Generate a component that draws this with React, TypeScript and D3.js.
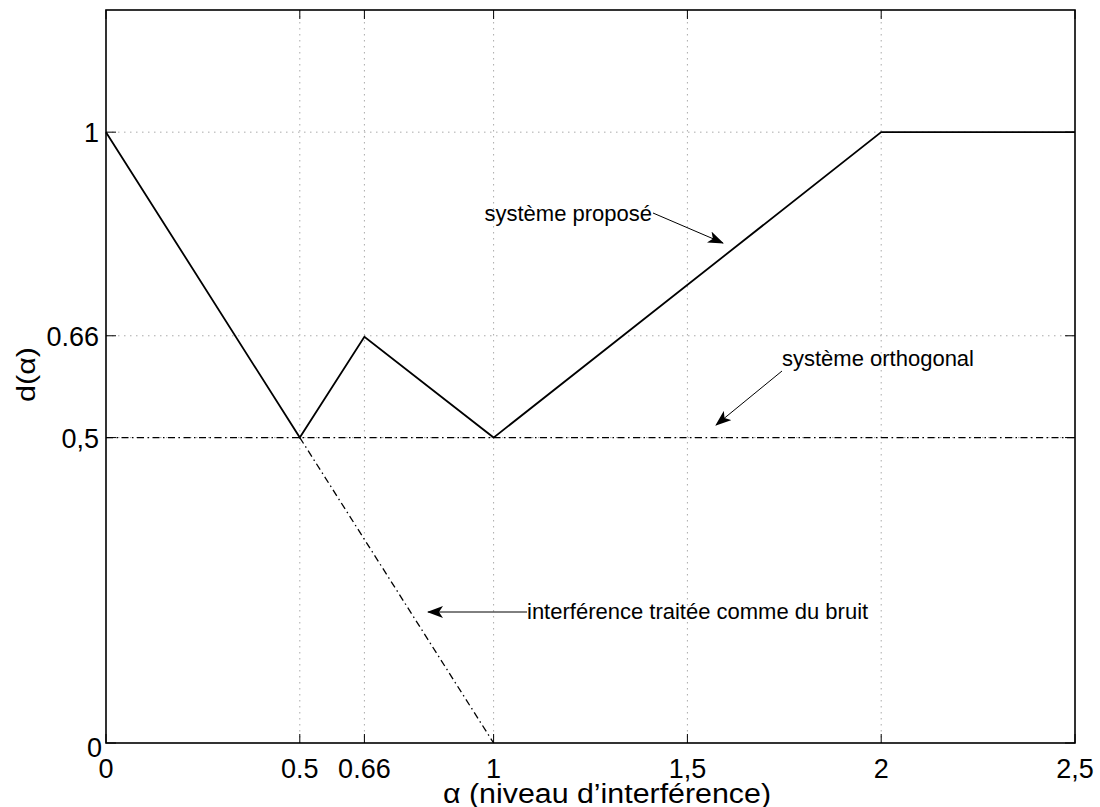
import React from "react";
import * as d3 from "d3";

const xTicks = [0, 0.5, 2 / 3, 1, 1.5, 2, 2.5];
const xTickLabels = ["0", "0.5", "0.66", "1", "1,5", "2", "2,5"];
const yTicks = [0, 0.5, 2 / 3, 1];
const yTickLabels = ["0", "0,5", "0.66", "1"];

const proposeX = [0, 0.5, 2 / 3, 1, 2, 2.5];
const proposeY = [1, 0.5, 0.665, 0.5, 1, 1];
const orthoX = [0, 2.5];
const orthoY = [0.5, 0.5];
const bruitX = [0.5, 1];
const bruitY = [0.5, 0];

const W = 1100, H = 807;
const M = { left: 106, right: 1075, top: 10, bottom: 743 };

export default function App() {
  const x = d3.scaleLinear().domain([0, 2.5]).range([M.left, M.right]);
  const y = d3.scaleLinear().domain([0, 1.2]).range([M.bottom, M.top]);
  const line = d3.line<[number, number]>().x(d => x(d[0])).y(d => y(d[1]));
  const pts = (xs: number[], ys: number[]) => xs.map((v, i) => [v, ys[i]] as [number, number]);
  const font = "'Liberation Sans', Arial, Helvetica, sans-serif";
  const dashDot = "7,3.5,1.5,3.5";

  const ann = [
    { text: "système proposé", tx: 652, ty: 221, x1: 653, y1: 213, x2: 723, y2: 243, anchor: "end" },
    { text: "système orthogonal", tx: 782, ty: 366, x1: 782, y1: 371, x2: 716, y2: 425, anchor: "start" },
    { text: "interférence traitée comme du bruit", tx: 527, ty: 619, x1: 527, y1: 612, x2: 428, y2: 612, anchor: "start" },
  ];

  return (
    <svg width={W} height={H} style={{ position: "absolute", left: 0, top: 0 }} fontFamily={font}>
      <defs>
        <marker id="ah" viewBox="0 0 16 12" refX="15" refY="6" markerWidth="16" markerHeight="12" markerUnits="userSpaceOnUse" orient="auto">
          <path d="M0,0 L16,6 L0,12 L4,6 Z" fill="#000" />
        </marker>
      </defs>
      <rect x={0} y={0} width={W} height={H} fill="#fff" />
      {/* grid */}
      {xTicks.slice(1, -1).map((t, i) => (
        <line key={"gx" + i} x1={x(t)} x2={x(t)} y1={M.top} y2={M.bottom} stroke="#aaa" strokeWidth={1} strokeDasharray="1.5,4.5" />
      ))}
      {yTicks.slice(1).map((t, i) => (
        <line key={"gy" + i} x1={M.left} x2={M.right} y1={y(t)} y2={y(t)} stroke="#aaa" strokeWidth={1} strokeDasharray="1.5,4.5" />
      ))}
      {/* ticks */}
      {xTicks.map((t, i) => (
        <g key={"tx" + i}>
          <line x1={x(t)} x2={x(t)} y1={M.bottom} y2={M.bottom - 9} stroke="#000" />
          <line x1={x(t)} x2={x(t)} y1={M.top} y2={M.top + 9} stroke="#000" />
          <text x={x(t)} y={778} fontSize={27} textAnchor="middle">{xTickLabels[i]}</text>
        </g>
      ))}
      {yTicks.map((t, i) => (
        <g key={"ty" + i}>
          <line x1={M.left} x2={M.left + 10} y1={y(t)} y2={y(t)} stroke="#000" />
          <line x1={M.right} x2={M.right - 10} y1={y(t)} y2={y(t)} stroke="#000" />
          <text x={t === 0 ? 102 : 99} y={t === 0 ? 757 : y(t) + 10} fontSize={27} textAnchor="end">{yTickLabels[i]}</text>
        </g>
      ))}
      {/* data */}
      <path d={line(pts(orthoX, orthoY)) || ""} fill="none" stroke="#000" strokeWidth={1.3} strokeDasharray={dashDot} />
      <path d={line(pts(bruitX, bruitY)) || ""} fill="none" stroke="#000" strokeWidth={1.3} strokeDasharray={dashDot} />
      <path d={line(pts(proposeX, proposeY)) || ""} fill="none" stroke="#000" strokeWidth={1.8} />
      {/* box */}
      <rect x={M.left} y={M.top} width={M.right - M.left} height={M.bottom - M.top} fill="none" stroke="#000" strokeWidth={1.6} />
      {/* annotations */}
      {ann.map((a, i) => (
        <g key={"a" + i}>
          <line x1={a.x1} y1={a.y1} x2={a.x2} y2={a.y2} stroke="#000" strokeWidth={1} markerEnd="url(#ah)" />
          <text x={a.tx} y={a.ty} fontSize={22} textAnchor={a.anchor as any}>{a.text}</text>
        </g>
      ))}
      {/* axis labels */}
      <text x={443} y={803} fontSize={27} textLength={328} lengthAdjust="spacingAndGlyphs">α (niveau d’interférence)</text>
      <text transform="translate(35,402) rotate(-90)" fontSize={26} textLength={55} lengthAdjust="spacingAndGlyphs">d(α)</text>
    </svg>
  );
}
